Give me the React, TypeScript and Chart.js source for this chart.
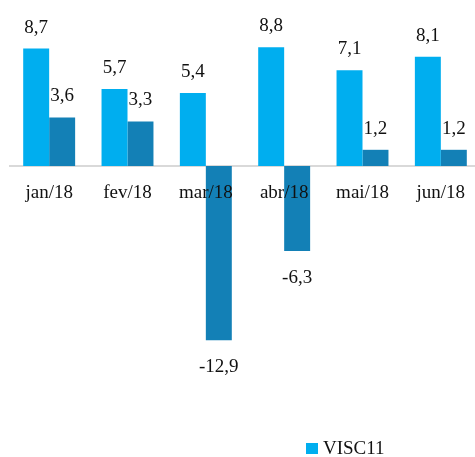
import React, { useEffect, useRef } from "react";
import { Chart, registerables } from "chart.js";

Chart.register(...registerables);

const categories = ["jan/18", "fev/18", "mar/18", "abr/18", "mai/18", "jun/18"];
const visc11Values = [8.7, 5.7, 5.4, 8.8, 7.1, 8.1];
const secondValues = [3.6, 3.3, -12.9, -6.3, 1.2, 1.2];
const seriesNames = ["VISC11", "Série 2"];

const LIGHT = "#00AEEF";
const DARK = "#1380B6";
const FONT = "19px 'Liberation Serif', serif";

const labelsPlugin = {
  id: "valueLabels",
  afterDatasetsDraw(chart: any) {
    const ctx = chart.ctx;
    ctx.save();
    ctx.font = FONT;
    ctx.fillStyle = "#111";
    ctx.textAlign = "center";
    ctx.textBaseline = "alphabetic";
    chart.data.datasets.forEach((ds: any, di: number) => {
      const meta = chart.getDatasetMeta(di);
      meta.data.forEach((el: any, i: number) => {
        const v = ds.data[i];
        const txt = String(v).replace(".", ",");
        if (v >= 0) ctx.fillText(txt, el.x, el.y - 16);
        else ctx.fillText(txt, el.x, el.y + 32);
      });
    });
    // legend
    ctx.fillStyle = LIGHT;
    ctx.fillRect(306, 443, 12, 11);
    ctx.fillStyle = "#111";
    ctx.textAlign = "left";
    ctx.fillText(seriesNames[0], 323, 454);
    ctx.restore();
  },
};

export default function App() {
  const ref = useRef<HTMLCanvasElement>(null);
  useEffect(() => {
    if (!ref.current) return;
    const chart = new Chart(ref.current, {
      type: "bar",
      data: {
        labels: categories,
        datasets: [
          { label: seriesNames[0], data: visc11Values, backgroundColor: LIGHT, barPercentage: 1, categoryPercentage: 0.663 },
          { label: seriesNames[1], data: secondValues, backgroundColor: DARK, barPercentage: 1, categoryPercentage: 0.663 },
        ],
      },
      options: {
        responsive: false,
        animation: false,
        layout: { padding: { left: 10, right: 10, top: 31, bottom: 75 } },
        plugins: { legend: { display: false }, tooltip: { enabled: false } },
        scales: {
          x: {
            position: { y: 0 } as any,
            grid: { display: false, drawTicks: false },
            border: { display: true, color: "#D9D9D9", width: 2 },
            ticks: { z: 1, font: { family: "'Liberation Serif', serif", size: 19 }, color: "#111", padding: 16, maxRotation: 0 },
          },
          y: { display: false, min: -16, max: 10 },
        },
      },
      plugins: [labelsPlugin],
    });
    return () => chart.destroy();
  }, []);
  return (
    <div style={{ position: "absolute", left: 0, top: 0, width: 475, height: 457, overflow: "hidden", background: "#fff" }}>
      <canvas ref={ref} width={490} height={457} style={{ width: 490, height: 457 }} />
    </div>
  );
}
